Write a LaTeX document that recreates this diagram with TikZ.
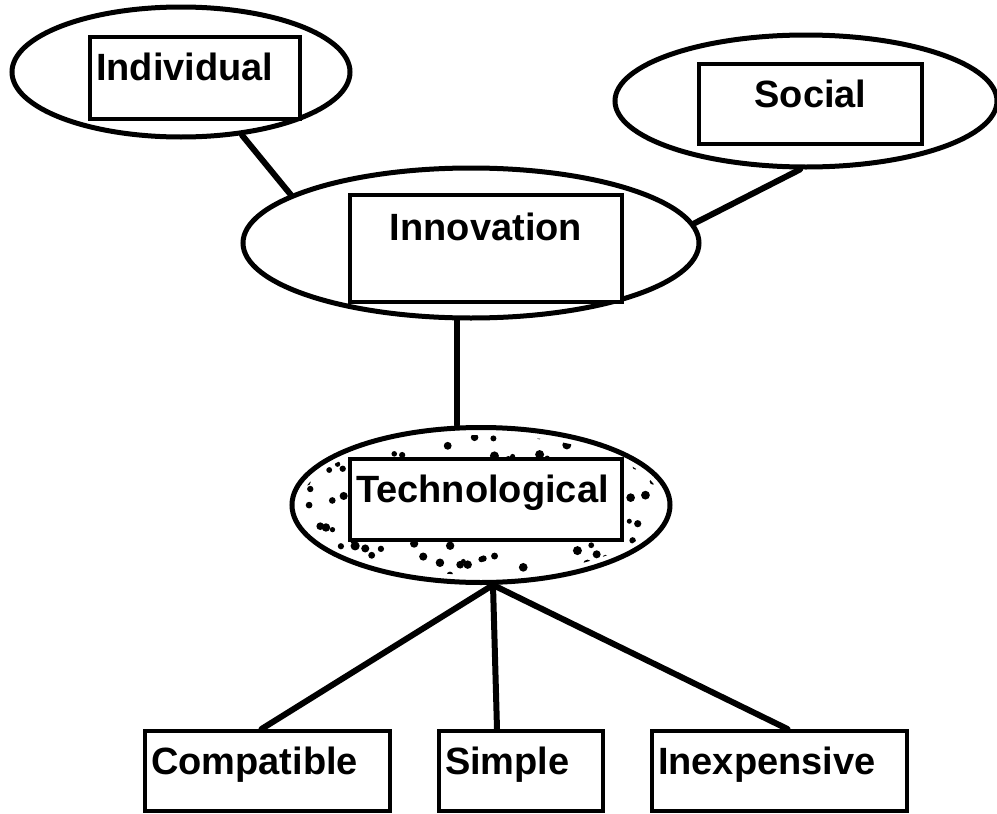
\documentclass[tikz,border=0pt]{standalone}
\usepackage{fontspec}
\setmainfont{Liberation Sans}
\usetikzlibrary{shapes.geometric}
\begin{document}
\begin{tikzpicture}[x=1pt, y=-1pt, line width=6pt, line cap=round,
    oval/.style = {draw, ellipse, inner sep=0pt, line width=5pt},
    box/.style = {draw, fill=white, line width=4pt, anchor=north west, inner xsep=6pt, inner ysep=0pt,
        text height=43pt, text depth=37pt, align=left, font=\fontsize{38}{40}\selectfont\bfseries}]
    \useasboundingbox (0,0) rectangle (997,814);
    % Disegna le ellissi
    \node[oval, minimum width=338pt, minimum height=130pt] (0) at (181,72) {};
    \node[oval, minimum width=382pt, minimum height=132pt] (1) at (806,101) {};
    \node[oval, minimum width=456pt, minimum height=150pt] (2) at (471,243) {};
    \node[oval, minimum width=378pt, minimum height=155pt] (3) at (481,505) {};

    % Puntini dentro l'ellisse tecnologica
    \begin{scope}
        \clip (3.center) ellipse [x radius=181pt, y radius=70pt];
        \pgfmathsetseed{7}
        \foreach \i in {1,...,150} {
            \pgfmathsetmacro{\dx}{rand*185}
            \pgfmathsetmacro{\dy}{rand*75}
            \pgfmathsetmacro{\dr}{2.4+2.2*rnd}
            \fill ([shift={(\dx pt,\dy pt)}]3.center) circle (\dr pt);
        }
    \end{scope}

    % Disegna i riquadri
    \node[box, text width=198pt, text depth=39pt] (4) at (88,35) {Individual};
    \node[box, text width=211pt, align=center, text depth=37pt] (5) at (697,62) {Social};
    \node[box, text width=260pt, align=center, text height=45pt, text depth=62pt] (6) at (348,193) {Innovation};
    \node[box, text width=260pt, text depth=38pt] (7) at (348,457) {Technological};

    \node[box, text width=233pt] (8) at (143,729) {Compatible};
    \node[box, text width=152pt] (9) at (437,729) {Simple};
    \node[box, text width=243pt] (10) at (650,729) {Inexpensive};

    % Disegna i collegamenti
    \draw (0.-46) -- (2.165);
    \draw (1.-95) -- (2.5);
    \draw ([xshift=-14pt]2.south) -- ([xshift=-24pt]3.north);
    \coordinate (11) at ([xshift=12pt]3.south);
    \draw (11) -- ([xshift=-6pt]8.north);
    \draw (11) -- ([xshift=-24pt]9.north);
    \draw (11) -- ([xshift=8pt]10.north);
\end{tikzpicture}
\end{document}
